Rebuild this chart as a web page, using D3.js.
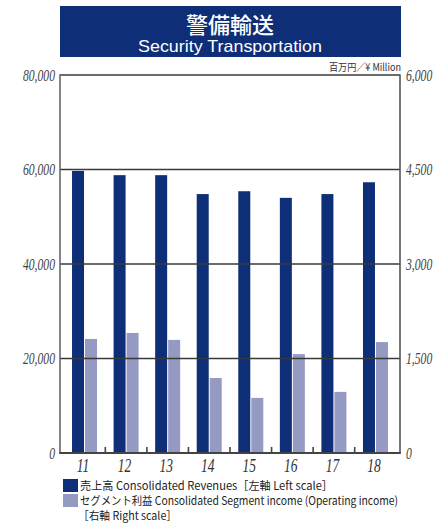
<!DOCTYPE html>
<html><head><meta charset="utf-8">
<script src="https://cdn.jsdelivr.net/npm/d3@7"></script>
<style>body{margin:0;background:#fff}svg{display:block}</style>
</head><body><svg id="c" width="436" height="525"></svg>
<script>
const years = ["11","12","13","14","15","16","17","18"];
const revenues = [59700, 58800, 58800, 54800, 55400, 54000, 54800, 57300];
const segmentIncome = [1810, 1905, 1795, 1190, 875, 1570, 970, 1760];
const leftTicks = [0, 20000, 40000, 60000, 80000];
const rightTicks = [0, 1500, 3000, 4500, 6000];
const titleJa = "警備輸送";
const titleEn = "Security Transportation";
const unitLabel = "百万円／¥ Million";
const legendLines = [
  "売上高 Consolidated Revenues［左軸 Left scale］",
  "セグメント利益 Consolidated Segment income (Operating income)",
  "［右軸 Right scale］"
];

const NAVY = "#0e2e78", LIGHT = "#959ac2", AX = "#444";
const L = 60, R = 400, T = 75, B = 453;
const svg = d3.select("#c");

const x = d3.scaleBand().domain(years).range([L, R]).paddingInner(0).paddingOuter(0.09);
const yL = d3.scaleLinear().domain([0, 80000]).range([B, T]);
const yR = d3.scaleLinear().domain([0, 6000]).range([B, T]);
const cx = d => x(d) + x.bandwidth() / 2;

// title box
svg.append("rect").attr("x", 60).attr("y", 6).attr("width", 341).attr("height", 51).attr("fill", NAVY);
svg.append("text").attr("x", 230).attr("y", 32.5).attr("text-anchor", "middle")
  .attr("font-family", "'Liberation Sans', 'Noto Sans CJK JP'").attr("font-weight", 500).attr("font-size", 22)
  .attr("fill", "#fff").text(titleJa);
svg.append("text").attr("x", 138).attr("y", 52)
  .attr("font-family", "'Liberation Sans', 'Open Sans'").attr("font-size", 16.5).attr("fill", "#fff")
  .attr("textLength", 184).attr("lengthAdjust", "spacingAndGlyphs").text(titleEn);

// unit
svg.append("text").attr("x", 401).attr("y", 71).attr("text-anchor", "end")
  .attr("font-family", "'Liberation Sans Narrow', 'Noto Sans CJK JP'").attr("font-size", 10.5).attr("fill", "#333")
  .attr("textLength", 72).attr("lengthAdjust", "spacingAndGlyphs").text(unitLabel);

// bars
svg.append("g").selectAll("rect").data(years).join("rect")
  .attr("x", d => cx(d) - 12.5).attr("width", 12)
  .attr("y", (d, i) => yL(revenues[i])).attr("height", (d, i) => B - yL(revenues[i]))
  .attr("fill", NAVY);
svg.append("g").selectAll("rect").data(years).join("rect")
  .attr("x", d => cx(d) + 0.5).attr("width", 12)
  .attr("y", (d, i) => yR(segmentIncome[i])).attr("height", (d, i) => B - yR(segmentIncome[i]))
  .attr("fill", LIGHT);

// gridlines (incl. top border)
svg.append("g").selectAll("line").data(leftTicks.filter(d => d > 0)).join("line")
  .attr("x1", L).attr("x2", R).attr("y1", d => yL(d)).attr("y2", d => yL(d))
  .attr("stroke", "#3a3a3a").attr("stroke-width", 1.6);

// frame sides
svg.append("line").attr("x1", L).attr("x2", L).attr("y1", T - 0.8).attr("y2", B).attr("stroke", "#666").attr("stroke-width", 1.6);
svg.append("line").attr("x1", R).attr("x2", R).attr("y1", T - 0.8).attr("y2", B).attr("stroke", "#555").attr("stroke-width", 1.6);

// left axis
const sx = 0.73;
const gl = svg.append("g").attr("transform", `translate(${L},0)`)
  .call(d3.axisLeft(yL).tickValues(leftTicks).tickSize(0).tickPadding(5).tickFormat(d3.format(",")));
gl.select(".domain").remove();
gl.selectAll("text").attr("font-family", "Liberation Serif").attr("font-style", "italic")
  .attr("font-size", 16).attr("fill", "#444").attr("x", -5 / sx).attr("transform", `scale(${sx},1)`);

// right axis
const gr = svg.append("g").attr("transform", `translate(${R},0)`)
  .call(d3.axisRight(yR).tickValues(rightTicks).tickSize(0).tickPadding(6).tickFormat(d3.format(",")));
gr.select(".domain").remove();
gr.selectAll("text").attr("font-family", "Liberation Serif").attr("font-style", "italic")
  .attr("font-size", 16).attr("fill", "#444").attr("x", 6 / sx).attr("transform", `scale(${sx},1)`);

// bottom axis
const gb = svg.append("g").attr("transform", `translate(0,${B})`)
  .call(d3.axisBottom(x).tickSize(0).tickPadding(6));
gb.select(".domain").remove();
const sb = 0.75;
gb.selectAll(".tick text").attr("font-family", "Liberation Serif").attr("font-style", "italic")
  .attr("font-size", 18).attr("fill", "#333").attr("transform", `scale(${sb},1)`)
  .attr("x", -1.5 / sb);
svg.append("g").selectAll("line").data(years.slice(1)).join("line")
  .attr("x1", d => x(d)).attr("x2", d => x(d)).attr("y1", B).attr("y2", B - 6)
  .attr("stroke", AX).attr("stroke-width", 1.6);
svg.append("line").attr("x1", L - 0.8).attr("x2", R + 0.8).attr("y1", B).attr("y2", B)
  .attr("stroke", AX).attr("stroke-width", 2);

// legend
const lg = svg.append("g");
lg.append("rect").attr("x", 63).attr("y", 479).attr("width", 15).attr("height", 13).attr("fill", NAVY);
lg.append("rect").attr("x", 63).attr("y", 494).attr("width", 15).attr("height", 13).attr("fill", LIGHT);
const lgPos = [[80, 490, 253], [80, 505, 318], [78, 520, 99]];
legendLines.forEach((t, i) => {
  lg.append("text").attr("x", lgPos[i][0]).attr("y", lgPos[i][1])
    .attr("font-family", "'Liberation Sans Narrow', 'Noto Sans CJK JP'").attr("font-size", 11.5).attr("fill", "#222")
    .attr("textLength", lgPos[i][2]).attr("lengthAdjust", "spacingAndGlyphs").text(t);
});
</script></body></html>
